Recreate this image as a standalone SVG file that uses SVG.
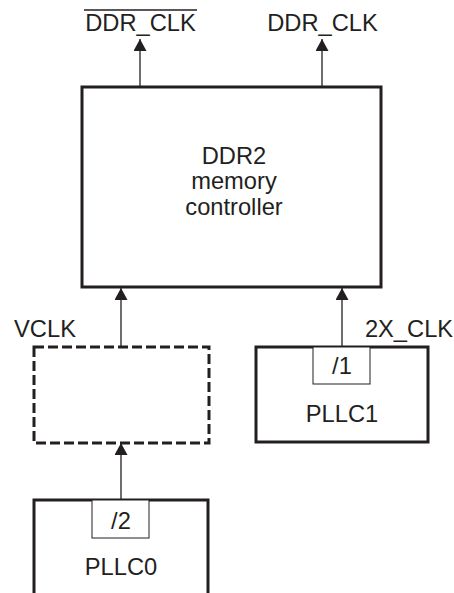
<svg xmlns="http://www.w3.org/2000/svg" width="454" height="593" viewBox="0 0 454 593">
<defs>
<marker id="arr" viewBox="0 0 12 13" refX="12" refY="6.5" markerWidth="12" markerHeight="13" markerUnits="userSpaceOnUse" orient="auto">
<path d="M0,0 L12,6.5 L0,13 z" fill="#231f20"/>
</marker>
<style>
text{font-family:"Liberation Sans",Arial,sans-serif;font-size:23.7px;fill:#231f20;text-anchor:middle}
.box{fill:none;stroke:#231f20;stroke-width:3}
.dash{fill:none;stroke:#231f20;stroke-width:3;stroke-dasharray:10,4}
.inner{fill:#fff;stroke:#231f20;stroke-width:1}
.conn{stroke:#231f20;stroke-width:1.3;fill:none}
</style>
</defs>
<rect width="454" height="593" fill="#fff"/>
<g id="connectors">
<line class="conn" x1="140" y1="87" x2="140" y2="39" marker-end="url(#arr)"/>
<line class="conn" x1="322" y1="87" x2="322" y2="39" marker-end="url(#arr)"/>
<line class="conn" x1="121" y1="347" x2="121" y2="288" marker-end="url(#arr)"/>
<line class="conn" x1="342" y1="347" x2="342" y2="288" marker-end="url(#arr)"/>
<line class="conn" x1="121" y1="500" x2="121" y2="443" marker-end="url(#arr)"/>
</g>
<g id="ddr_clk_n">
<text x="140.5" y="30.5">DDR_CLK</text>
<line x1="84" y1="10" x2="197" y2="10" stroke="#231f20" stroke-width="1.6"/>
</g>
<g id="ddr_clk">
<text x="322.5" y="30.5">DDR_CLK</text>
</g>
<g id="ddr2">
<rect class="box" x="82" y="87" width="299" height="200"/>
<text x="234" y="163.5">DDR2</text>
<text x="234" y="188.5">memory</text>
<text x="234" y="215">controller</text>
</g>
<g id="vclk">
<text x="45" y="337">VCLK</text>
<rect class="dash" x="34" y="347" width="175" height="96"/>
</g>
<g id="pllc1">
<text x="409" y="337">2X_CLK</text>
<rect class="box" x="256" y="347" width="172" height="95"/>
<rect class="inner" x="313" y="347" width="57" height="37"/>
<text x="342" y="374">/1</text>
<text x="342" y="422">PLLC1</text>
</g>
<g id="pllc0">
<rect class="box" x="34" y="500" width="174" height="100"/>
<rect class="inner" x="92" y="500" width="57" height="38"/>
<text x="121" y="529">/2</text>
<text x="121" y="575">PLLC0</text>
</g>
</svg>
